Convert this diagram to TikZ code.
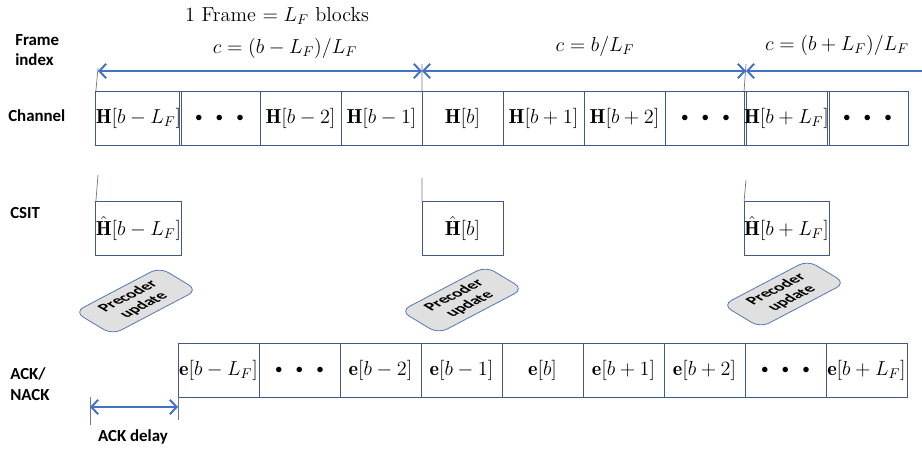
\documentclass[tikz,border=0pt]{standalone}
\usepackage{amsmath,amssymb}
\usepackage{fontspec}
\newfontfamily\lblfont{Carlito}
\usetikzlibrary{arrows.meta}

\definecolor{boxblue}{RGB}{66,88,135}
\definecolor{arrowblue}{RGB}{68,114,196}
\definecolor{tickgray}{RGB}{110,118,138}
\definecolor{precfill}{RGB}{224,224,224}
\definecolor{precline}{RGB}{92,122,180}

\newcommand{\blkdots}{{\normalsize$\bullet$\hspace{3.4mm}$\bullet$\hspace{3.4mm}$\bullet$}}

\begin{document}
\begin{tikzpicture}[
    font=\Large,
    >={Straight Barb[length=1.7mm, width=3.6mm]},
    blk/.style={rectangle, draw=boxblue, line width=0.6pt, minimum width=2.025cm, minimum height=1.35cm, inner sep=0pt, outer sep=0pt},
    rowlbl/.style={anchor=west, align=left, inner sep=0pt, font=\lblfont\bfseries\fontsize{12}{14.5}\selectfont},
    prec/.style={rectangle, draw=precline, fill=precfill, rounded corners=7pt, cm={0.885,0.465,-0.857,0.515,(0,0)}, minimum width=2.4cm, minimum height=1.1cm, align=center, inner sep=1pt, line width=0.6pt, font=\lblfont\bfseries\fontsize{11.5}{13}\selectfont},
    span/.style={<->, draw=arrowblue, line width=1.4pt},
    tick/.style={draw=tickgray, line width=0.5pt}
]
\useasboundingbox (0,0) rectangle (23.05,-11.225);

% Row labels
\node[rowlbl] (lframe) at (0.375,-1.25) {Frame\\index};
\node[rowlbl] (lchan) at (0.2,-2.9) {Channel};
\node[rowlbl] (lcsit) at (0.25,-5.325) {CSIT};
\node[rowlbl] (lack) at (0.25,-9.6) {ACK/\\NACK};
\node[rowlbl, anchor=center] (ldelay) at (3.325,-10.925) {ACK delay};

% Frame captions
\node (tframe) at (6.925,-0.4) {1 Frame $= L_F$ blocks};
\node (c0) at (7.125,-1.2) {$c=(b-L_F)/L_F$};
\node (c1) at (14.875,-1.15) {$c=b/L_F$};
\node (c2) at (20.925,-1.125) {$c=(b+L_F)/L_F$};

% Channel row
\node[blk] (h1) at (3.4625,-2.95) {$\mathbf{H}[b-L_F]$};
\node[blk] (h2) at (5.4875,-2.95) {\blkdots};
\node[blk] (h3) at (7.5125,-2.95) {$\mathbf{H}[b-2]$};
\node[blk] (h4) at (9.5375,-2.95) {$\mathbf{H}[b-1]$};
\node[blk] (h5) at (11.5625,-2.95) {$\mathbf{H}[b]$};
\node[blk] (h6) at (13.5875,-2.95) {$\mathbf{H}[b+1]$};
\node[blk] (h7) at (15.6125,-2.95) {$\mathbf{H}[b+2]$};
\node[blk] (h8) at (17.6375,-2.95) {\blkdots};
\node[blk] (h9) at (19.6625,-2.95) {$\mathbf{H}[b+L_F]$};
\node[blk] (h10) at (21.6875,-2.95) {\blkdots};

% CSIT row
\node[blk] (csit1) at (3.4625,-5.7125) {$\hat{\mathbf{H}}[b-L_F]$};
\node[blk] (csit2) at (11.5625,-5.7125) {$\hat{\mathbf{H}}[b]$};
\node[blk] (csit3) at (19.6625,-5.7125) {$\hat{\mathbf{H}}[b+L_F]$};

\node[prec] (prec1) at (3.4,-7.525) {Precoder\\update};
\node[prec] (prec2) at (11.55,-7.5) {Precoder\\update};
\node[prec] (prec3) at (19.6,-7.35) {Precoder\\update};

% ACK/NACK row
\node[blk] (e1) at (5.4625,-9.25) {$\mathbf{e}[b-L_F]$};
\node[blk] (e2) at (7.4875,-9.25) {\blkdots};
\node[blk] (e3) at (9.5125,-9.25) {$\mathbf{e}[b-2]$};
\node[blk] (e4) at (11.5375,-9.25) {$\mathbf{e}[b-1]$};
\node[blk] (e5) at (13.5625,-9.25) {$\mathbf{e}[b]$};
\node[blk] (e6) at (15.5875,-9.25) {$\mathbf{e}[b+1]$};
\node[blk] (e7) at (17.6125,-9.25) {$\mathbf{e}[b+2]$};
\node[blk] (e8) at (19.6375,-9.25) {\blkdots};
\node[blk] (e9) at (21.6625,-9.25) {$\mathbf{e}[b+L_F]$};

% Frame boundaries
\coordinate (f0) at (2.45,-1.775);
\coordinate (f1) at (10.55,-1.775);
\coordinate (f2) at (18.65,-1.775);
\coordinate (fend) at (23.05,-1.775);

\draw[tick] (2.45,-1.7) -- (h1.north west);
\draw[tick] (10.55,-1.6) -- (h5.north west);
\draw[tick] (18.65,-1.6) -- (h9.north west);

\draw[span] (f0) -- (f1);
\draw[span] (f1) -- (f2);
\draw[span, <-] (f2) -- (fend);

\draw[tick] (2.45,-4.375) -- (csit1.north west);
\draw[tick] (10.55,-4.45) -- (csit2.north west);
\draw[tick] (18.65,-4.5) -- (csit3.north west);

% ACK delay
\coordinate (d0) at (2.25,-10.175);
\coordinate (d1) at (e1.south west |- d0);
\draw[tick] (2.25,-9.925) -- (2.25,-10.625);
\draw[tick] (e1.south west) -- (4.45,-10.5);
\draw[span] (d0) -- (d1);

\end{tikzpicture}
\end{document}
